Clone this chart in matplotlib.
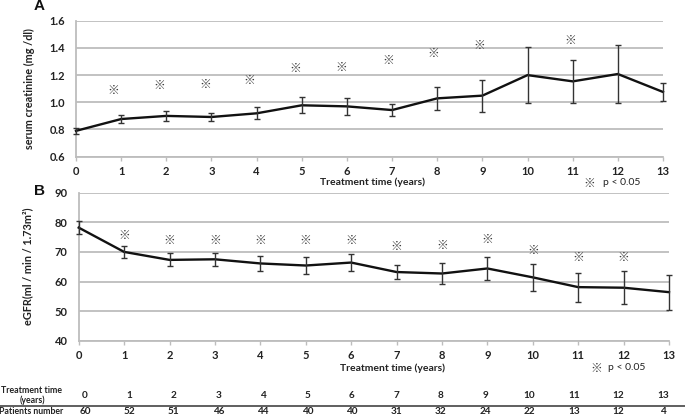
import matplotlib
matplotlib.use("Agg")
import matplotlib.pyplot as plt
import numpy as np

# ---------------- data ----------------
years = list(range(14))
creat_mean = [0.79, 0.877, 0.90, 0.892, 0.919, 0.978, 0.97, 0.943, 1.029, 1.049, 1.20, 1.154, 1.208, 1.076]
creat_err = [0.02, 0.027, 0.037, 0.03, 0.044, 0.06, 0.06, 0.041, 0.083, 0.118, 0.205, 0.16, 0.21, 0.065]
creat_star_x = [0.83, 1.84, 2.87, 3.84, 4.85, 5.88, 6.92, 7.91, 8.94, 10.94]
creat_star_y = [1.086, 1.122, 1.132, 1.159, 1.252, 1.257, 1.311, 1.362, 1.417, 1.454]

egfr_mean = [78.2, 70.0, 67.3, 67.5, 66.1, 65.4, 66.4, 63.2, 62.7, 64.4, 61.4, 58.1, 57.9, 56.4]
egfr_err = [2.3, 2.1, 2.2, 2.2, 2.4, 2.8, 3.0, 2.4, 3.6, 4.0, 4.5, 4.9, 5.5, 5.9]
egfr_star_x = [1, 2, 3, 4, 5, 6, 7, 8, 9, 10, 11, 12]
egfr_star_y = [75.7, 73.9, 73.9, 73.9, 73.9, 74.0, 71.9, 72.1, 74.2, 70.4, 68.0, 68.2]

patients = [60, 52, 51, 46, 44, 40, 40, 31, 32, 24, 22, 13, 12, 4]

creat_ticks = [0.6, 0.8, 1.0, 1.2, 1.4, 1.6]
egfr_ticks = [40, 50, 60, 70, 80, 90]

# ---------------- style ----------------
W, H = 685, 417
FONT = "Lato"
STAR_FONT = ["Noto Sans CJK JP", "DejaVu Sans"]
STAR_COLOR = "#3a3a3a"
GRID = "#bdbdbd"
TXT = "#222222"

def fx(px):
    return px / W

def fy(py):
    return 1 - py / H

fig = plt.figure(figsize=(W / 100, H / 100), dpi=100)
fig.patch.set_facecolor("white")

axA = fig.add_axes([fx(76), fy(156.7), fx(663) - fx(76), fy(20.7) - fy(156.7)])
axB = fig.add_axes([fx(78.7), fy(340.7), fx(669) - fx(78.7), fy(192.7) - fy(340.7)])


def style_axis(ax, yticks, yfmt):
    ax.set_xlim(0, 13)
    ax.set_ylim(yticks[0], yticks[-1])
    ax.set_yticks(yticks)
    ax.set_yticklabels([yfmt(v) for v in yticks])
    ax.set_xticks(years)
    ax.set_xticklabels([str(y) for y in years])
    for s in ["top", "right"]:
        ax.spines[s].set_visible(False)
    for s in ["left", "bottom"]:
        ax.spines[s].set_color(GRID)
        ax.spines[s].set_linewidth(1.3)
    ax.grid(axis="y", color=GRID, linewidth=1.3)
    ax.set_axisbelow(True)
    ax.tick_params(axis="x", direction="out", length=3, width=1, color=GRID,
                   pad=4, labelsize=8, labelcolor=TXT)
    ax.tick_params(axis="y", length=0, pad=8, labelsize=8, labelcolor=TXT)
    for lab in ax.get_xticklabels() + ax.get_yticklabels():
        lab.set_fontfamily(FONT)
        lab.set_fontweight("bold")


style_axis(axA, creat_ticks, lambda v: f"{v:.1f}")
style_axis(axB, egfr_ticks, lambda v: f"{v:.0f}")

for ax, m, e in [(axA, creat_mean, creat_err), (axB, egfr_mean, egfr_err)]:
    ax.plot(years, m, color="#111111", linewidth=1.7, clip_on=False, zorder=3)
    ax.errorbar(years, m, yerr=e, fmt="none", ecolor="#333333", elinewidth=1.0,
                capsize=2.5, capthick=1.0, clip_on=False, zorder=3)

for x, y in zip(creat_star_x, creat_star_y):
    axA.text(x, y, "※", family=STAR_FONT, fontsize=8.5, fontweight="bold",
             color=STAR_COLOR, ha="center", va="center")
for x, y in zip(egfr_star_x, egfr_star_y):
    axB.text(x, y, "※", family=STAR_FONT, fontsize=8.5, fontweight="bold",
             color=STAR_COLOR, ha="center", va="center")

# axis labels
axA.set_ylabel("serum creatinine (mg /dl)", fontfamily=FONT, fontweight="bold",
               fontsize=7.8, color=TXT)
axA.yaxis.set_label_coords((fx(35) - fx(76)) / (fx(663) - fx(76)), 0.5)
axB.set_ylabel("eGFR(ml / min / 1.73m²)", fontfamily=FONT, fontweight="bold",
               fontsize=7.8, color=TXT)
axB.yaxis.set_label_coords((fx(33) - fx(78.7)) / (fx(669) - fx(78.7)), 0.5)

fig.text(fx(373), fy(182.5), "Treatment time (years)", fontfamily=FONT, fontweight="bold",
         fontsize=7.5, color=TXT, ha="center", va="center")
fig.text(fx(393), fy(368.5), "Treatment time (years)", fontfamily=FONT, fontweight="bold",
         fontsize=7.5, color=TXT, ha="center", va="center")

# legends
for sx, tx, ty in [(589, 603, 183), (596.7, 608, 368)]:
    fig.text(fx(sx), fy(ty), "※", family=STAR_FONT, fontsize=8.5, fontweight="bold",
             color=STAR_COLOR, ha="center", va="center")
    fig.text(fx(tx), fy(ty), "p < 0.05", fontfamily=FONT, fontsize=7.5, color=TXT,
             ha="left", va="center")

# panel letters
fig.text(fx(39), fy(6.5), "A", fontfamily="Liberation Sans", fontweight="bold",
         fontsize=11, color="#111111", ha="center", va="center")
fig.text(fx(39.3), fy(190.7), "B", fontfamily="Liberation Sans", fontweight="bold",
         fontsize=11, color="#111111", ha="center", va="center")

# table
col_x0, col_x13 = 85, 663
for yr, n in zip(years, patients):
    cx = col_x0 + (col_x13 - col_x0) * yr / 13
    fig.text(fx(cx), fy(396), str(yr), fontfamily=FONT, fontweight="bold",
             fontsize=7.2, color=TXT, ha="center", va="center")
    fig.text(fx(cx), fy(411), str(n), fontfamily=FONT, fontweight="bold",
             fontsize=7.2, color=TXT, ha="center", va="center")
fig.text(fx(32), fy(390.5), "Treatment time", fontfamily=FONT, fontweight="bold",
         fontsize=6.3, color=TXT, ha="center", va="center")
fig.text(fx(32), fy(400), "(years)", fontfamily=FONT, fontweight="bold",
         fontsize=6.3, color=TXT, ha="center", va="center")
fig.text(fx(31), fy(411), "Patients number", fontfamily=FONT, fontweight="bold",
         fontsize=6.3, color=TXT, ha="center", va="center")
fig.add_artist(plt.Line2D([0, 1], [fy(405.5), fy(405.5)], transform=fig.transFigure,
                          color="#444444", linewidth=1.2))

fig.savefig("out.png", dpi=100)
